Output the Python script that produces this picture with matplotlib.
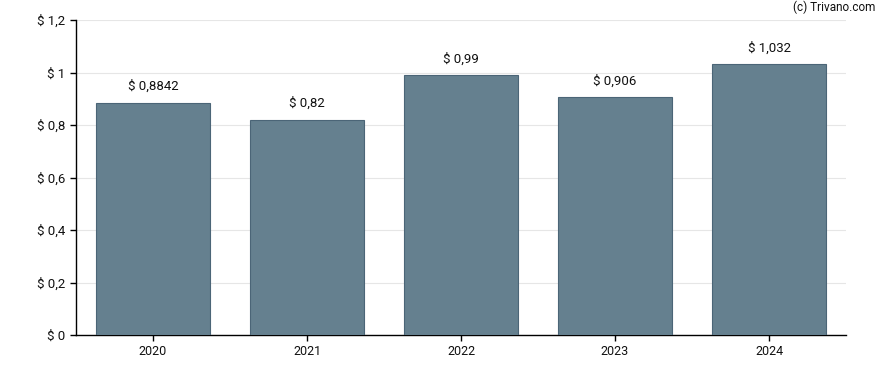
import matplotlib
matplotlib.use("Agg")
import matplotlib.pyplot as plt

years = ["2020", "2021", "2022", "2023", "2024"]
values = [0.8842, 0.82, 0.99, 0.906, 1.032]
labels = ["$ 0,8842", "$ 0,82", "$ 0,99", "$ 0,906", "$ 1,032"]
yticks = [0, 0.2, 0.4, 0.6, 0.8, 1.0, 1.2]
ytick_labels = ["$ 0", "$ 0,2", "$ 0,4", "$ 0,6", "$ 0,8", "$ 1", "$ 1,2"]

plt.rcParams['font.family'] = ['Roboto', 'DejaVu Sans']

fig = plt.figure(figsize=(8.88, 3.7), dpi=100)
ax = fig.add_axes([76/888, 1-335/370, 770/888, 315/370])

x = list(range(len(years)))
ax.bar(x, values, width=0.74, color="#65808f", edgecolor="#4b6577", linewidth=0.8, zorder=3)
for xi, v, lab in zip(x, values, labels):
    ax.annotate(lab, (xi, v), xytext=(0, 7), textcoords="offset points",
                ha="center", va="bottom", fontsize=9.5, color="#111111")

ax.set_xlim(-0.5, len(years)-0.5)
ax.set_ylim(0, 1.2)
ax.set_xticks(x)
ax.set_xticklabels(years, fontsize=9)
ax.set_yticks(yticks)
ax.set_yticklabels(ytick_labels, fontsize=9.5)
ax.grid(axis="y", color="#e6e6e6", linewidth=0.8, zorder=0)
ax.set_axisbelow(True)
for s in ["top", "right"]:
    ax.spines[s].set_visible(False)
for s in ["left", "bottom"]:
    ax.spines[s].set_color("#000000")
    ax.spines[s].set_linewidth(1.0)
ax.tick_params(axis="both", length=4, width=1, color="#000000", labelcolor="#111111")

fig.text(875/888, 1-7/370, "(c) Trivano.com", ha="right", va="center", fontsize=8.5, color="#111111")

fig.savefig("out.png", dpi=100)
